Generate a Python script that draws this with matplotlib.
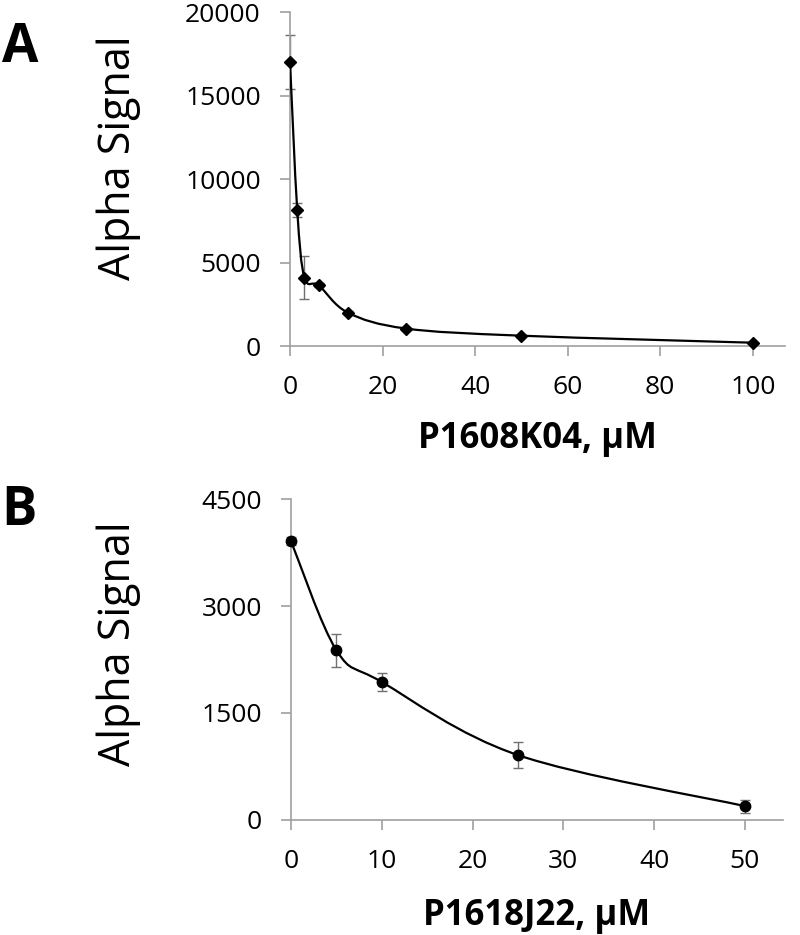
import matplotlib
matplotlib.use("Agg")
import matplotlib.pyplot as plt
from matplotlib.path import Path
from matplotlib.patches import PathPatch
import numpy as np

plt.rcParams['font.family'] = ['Open Sans', 'DejaVu Sans']

# panel A data
conc_a = [0, 1.5625, 3.125, 6.25, 12.5, 25, 50, 100]
signal_a = [17000, 8150, 4100, 3630, 2000, 1050, 620, 200]
err_a = [1600, 400, 1300, 120, 100, 80, 60, 50]

# panel B data
conc_b = [0, 5, 10, 25, 50]
signal_b = [3910, 2380, 1935, 910, 195]
err_b = [60, 230, 125, 180, 90]

GRAY = '#a0a0a0'


def smooth_path(x, y):
	# excel-style smoothed line: bezier segments with catmull-rom control points
	x = np.asarray(x, float)
	y = np.asarray(y, float)
	n = len(x)
	verts = [(x[0], y[0])]
	codes = [Path.MOVETO]
	for i in range(n - 1):
		i0 = max(i - 1, 0)
		i3 = min(i + 2, n - 1)
		c1 = (x[i] + (x[i + 1] - x[i0]) / 6, y[i] + (y[i + 1] - y[i0]) / 6)
		c2 = (x[i + 1] - (x[i3] - x[i]) / 6, y[i + 1] - (y[i3] - y[i]) / 6)
		verts += [c1, c2, (x[i + 1], y[i + 1])]
		codes += [Path.CURVE4] * 3
	return Path(verts, codes)


def style_axes(ax):
	for s in ['top', 'right']:
		ax.spines[s].set_visible(False)
	for s in ['left', 'bottom']:
		ax.spines[s].set_color(GRAY)
		ax.spines[s].set_linewidth(1.2)
	ax.tick_params(axis='both', direction='out', length=7, width=1.2, color=GRAY,
		labelsize=19, labelcolor='black')
	ax.tick_params(axis='x', pad=14)
	ax.tick_params(axis='y', pad=14)


def draw_panel(ax, x, y, err, marker, ms, xlabel):
	ax.errorbar(x, y, yerr=err, fmt='none', ecolor='#707070', elinewidth=1,
		capsize=3.5, capthick=1, zorder=2, clip_on=False)
	ax.add_patch(PathPatch(smooth_path(x, y), facecolor='none', edgecolor='black',
		linewidth=1.6, zorder=3))
	ax.plot(x, y, linestyle='none', marker=marker, markersize=ms, color='black',
		zorder=4, clip_on=False)
	style_axes(ax)
	ax.set_ylabel('Alpha Signal', fontsize=31)
	ax.set_xlabel(xlabel, fontsize=25, fontweight='bold')


fig = plt.figure(figsize=(8, 9.35), dpi=100)

ax1 = fig.add_axes([0.3625, 0.6299, 0.619, 0.3572])
draw_panel(ax1, conc_a, signal_a, err_a, 'D', 6.5, 'P1608K04, µM')
ax1.set_xlim(0, 107)
ax1.set_ylim(0, 20000)
ax1.set_xticks(np.arange(0, 101, 20))
ax1.set_yticks(np.arange(0, 20001, 5000))
ax1.yaxis.set_label_coords(-0.30, 0.563)
ax1.xaxis.set_label_coords(0.5, -0.225)

ax2 = fig.add_axes([0.36375, 0.123, 0.615, 0.3433])
draw_panel(ax2, conc_b, signal_b, err_b, 'o', 7.5, 'P1618J22, µM')
ax2.set_xlim(0, 54.2)
ax2.set_ylim(0, 4500)
ax2.set_xticks(np.arange(0, 51, 10))
ax2.set_yticks(np.arange(0, 4501, 1500))
ax2.yaxis.set_label_coords(-0.305, 0.548)
ax2.xaxis.set_label_coords(0.5, -0.243)

fig.text(0.002, 1 - 62 / 935, 'A', fontsize=38, fontweight='bold', va='baseline')
fig.text(0.002, 1 - 525 / 935, 'B', fontsize=38, fontweight='bold', va='baseline')

fig.savefig('out.png', dpi=100)
